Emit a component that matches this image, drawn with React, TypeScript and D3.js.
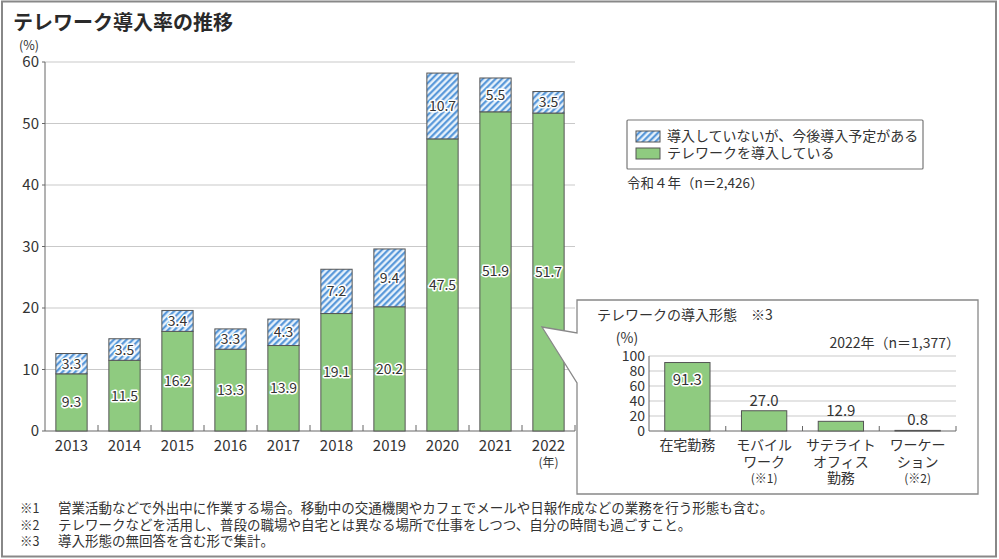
import React from "react";
import * as d3 from "d3";

const years = ["2013", "2014", "2015", "2016", "2017", "2018", "2019", "2020", "2021", "2022"];
const introduced = [9.3, 11.5, 16.2, 13.3, 13.9, 19.1, 20.2, 47.5, 51.9, 51.7];
const planned = [3.3, 3.5, 3.4, 3.3, 4.3, 7.2, 9.4, 10.7, 5.5, 3.5];
const mainTicks = [0, 10, 20, 30, 40, 50, 60];

const formCats = ["在宅勤務", "モバイルワーク", "サテライトオフィス勤務", "ワーケーション"];
const formLabels = [["在宅勤務"], ["モバイル", "ワーク", "(※1)"], ["サテライト", "オフィス", "勤務"], ["ワーケー", "ション", "(※2)"]];
const formValues = [91.3, 27.0, 12.9, 0.8];
const subTicks = [0, 20, 40, 60, 80, 100];

const legendItems = ["導入していないが、今後導入予定がある", "テレワークを導入している"];
const notes = [
  ["※1", "営業活動などで外出中に作業する場合。移動中の交通機関やカフェでメールや日報作成などの業務を行う形態も含む。"],
  ["※2", "テレワークなどを活用し、普段の職場や自宅とは異なる場所で仕事をしつつ、自分の時間も過ごすこと。"],
  ["※3", "導入形態の無回答を含む形で集計。"],
];

const FONT = "'Noto Sans CJK JP', 'Noto Sans', sans-serif";
const TXT = "#333";
const GREEN = "#8fcb80";
const BAR_STROKE = "#555";
const GRID = "#c9c9c9";

export default function App() {
  const x = d3.scaleBand<string>().domain(years).range([45, 575]).paddingInner(0.41).paddingOuter(0.205);
  const y = d3.scaleLinear().domain([0, 60]).range([431, 62]);
  const step = x.step();
  const x0 = 45;

  const sx = d3.scaleBand<string>().domain(formCats).range([649, 956]).paddingInner(0.41).paddingOuter(0.205);
  const sy = d3.scaleLinear().domain([0, 100]).range([431, 356]);
  const sstep = sx.step();

  const halo = { paintOrder: "stroke" as const, stroke: "#fff", strokeWidth: 3, strokeLinejoin: "round" as const };

  return (
    <svg width={999} height={559} style={{ position: "absolute", left: 0, top: 0, fontFamily: FONT }}>
      <defs>
        <pattern id="hatch" patternUnits="userSpaceOnUse" width={4.5} height={4.5} patternTransform="rotate(45)">
          <rect width={4.5} height={4.5} fill="#e8f2fb" />
          <line x1={1.2} y1={0} x2={1.2} y2={4.5} stroke="#4a8fd6" strokeWidth={2} />
        </pattern>
      </defs>
      <rect x={0} y={0} width={999} height={559} fill="#fff" />
      <rect x={2} y={1.5} width={994} height={555} fill="none" stroke="#888" strokeWidth={2} />

      <text x={13} y={30} fontSize={20} fontWeight="bold" fill="#2a2a2a">テレワーク導入率の推移</text>

      {/* main chart */}
      <text x={29} y={50} fontSize={12.5} fill={TXT} textAnchor="middle">(%)</text>
      {mainTicks.map((t) => (
        <g key={t}>
          {t > 0 && <line x1={45} x2={575} y1={y(t)} y2={y(t)} stroke={GRID} strokeWidth={1.2} />}
          <line x1={42} x2={45} y1={y(t)} y2={y(t)} stroke="#666" />
          <text x={39} y={y(t) + 5} fontSize={15} fill={TXT} textAnchor="end">{t}</text>
        </g>
      ))}
      <line x1={45} x2={45} y1={62} y2={431} stroke="#666" />
      <line x1={45} x2={575} y1={431} y2={431} stroke="#666" />
      {years.map((_, i) => (
        <line key={i} x1={x0 + step * (i + 1)} x2={x0 + step * (i + 1)} y1={431} y2={425} stroke="#666" />
      ))}
      {years.map((yr, i) => {
        const bx = x(yr)!;
        const bw = x.bandwidth();
        const g = introduced[i];
        const p = planned[i];
        return (
          <g key={yr}>
            <rect x={bx} y={y(g)} width={bw} height={y(0) - y(g)} fill={GREEN} stroke={BAR_STROKE} strokeWidth={1} />
            <rect x={bx} y={y(g + p)} width={bw} height={y(g) - y(g + p)} fill="url(#hatch)" stroke={BAR_STROKE} strokeWidth={1} />
            <text x={bx + bw / 2} y={(y(0) + y(g)) / 2 + 5} fontSize={14} fill={TXT} textAnchor="middle" {...halo}>{g.toFixed(1)}</text>
            <text x={bx + bw / 2} y={(y(g) + y(g + p)) / 2 + 5} fontSize={14} fill={TXT} textAnchor="middle" {...halo}>{p.toFixed(1)}</text>
            <text x={bx + bw / 2} y={451} fontSize={15} fill={TXT} textAnchor="middle">{yr}</text>
          </g>
        );
      })}
      <text x={x("2022")! + x.bandwidth() / 2} y={467} fontSize={12} fill={TXT} textAnchor="middle">(年)</text>

      {/* legend */}
      <rect x={627} y={120} width={296} height={49} fill="#fff" stroke="#777" strokeWidth={1.2} rx={1} />
      <rect x={636} y={131} width={24} height={11} fill="url(#hatch)" stroke={BAR_STROKE} />
      <rect x={636} y={148} width={24} height={11} fill={GREEN} stroke={BAR_STROKE} />
      <text x={667} y={141} fontSize={14} fill={TXT}>{legendItems[0]}</text>
      <text x={667} y={158} fontSize={14} fill={TXT}>{legendItems[1]}</text>
      <text x={627} y={188} fontSize={13.5} fill={TXT}>令和４年（n＝2,426）</text>

      {/* callout */}
      <path d="M577,300 H978 V494 H577 V383 L542,327 L577,333 Z" fill="#fff" stroke="#888" strokeWidth={1.3} />
      <text x={597} y={320} fontSize={14} fill={TXT}>テレワークの導入形態　※3</text>
      <text x={627} y={343} fontSize={14} fill={TXT} textAnchor="middle">(%)</text>
      <text x={960} y={348} fontSize={14} fill={TXT} textAnchor="end">2022年（n＝1,377）</text>
      {subTicks.map((t) => (
        <g key={t}>
          {t > 0 && <line x1={649} x2={956} y1={sy(t)} y2={sy(t)} stroke={GRID} strokeWidth={1} />}
          <text x={645} y={sy(t) + 5} fontSize={14} fill={TXT} textAnchor="end">{t}</text>
        </g>
      ))}
      <line x1={649} x2={649} y1={356} y2={431} stroke="#666" />
      <line x1={649} x2={956} y1={431} y2={431} stroke="#666" />
      {formCats.map((_, i) => (
        <line key={i} x1={649 + sstep * (i + 1)} x2={649 + sstep * (i + 1)} y1={431} y2={426} stroke="#666" />
      ))}
      {formCats.map((c, i) => {
        const bx = sx(c)!;
        const bw = sx.bandwidth();
        const v = formValues[i];
        const inside = v > 50;
        return (
          <g key={c}>
            <rect x={bx} y={sy(v)} width={bw} height={sy(0) - sy(v)} fill={i === 3 ? "#333" : GREEN} stroke={BAR_STROKE} strokeWidth={1} />
            <text x={bx + bw / 2} y={inside ? sy(v) + 22 : sy(v) - 5} fontSize={15} fill={TXT} textAnchor="middle" {...(inside ? halo : {})}>{v.toFixed(1)}</text>
            {formLabels[i].map((l, j) => (
              <text key={j} x={bx + bw / 2} y={450 + j * 16.5} fontSize={j === 2 && l.startsWith("(") ? 12 : 14} fill={TXT} textAnchor="middle">{l}</text>
            ))}
          </g>
        );
      })}

      {/* notes */}
      {notes.map((n, i) => (
        <g key={i}>
          <text x={20} y={513 + i * 16.5} fontSize={12.5} fill={TXT}>{n[0]}</text>
          <text x={58} y={513 + i * 16.5} fontSize={13.5} fill={TXT}>{n[1]}</text>
        </g>
      ))}
    </svg>
  );
}
